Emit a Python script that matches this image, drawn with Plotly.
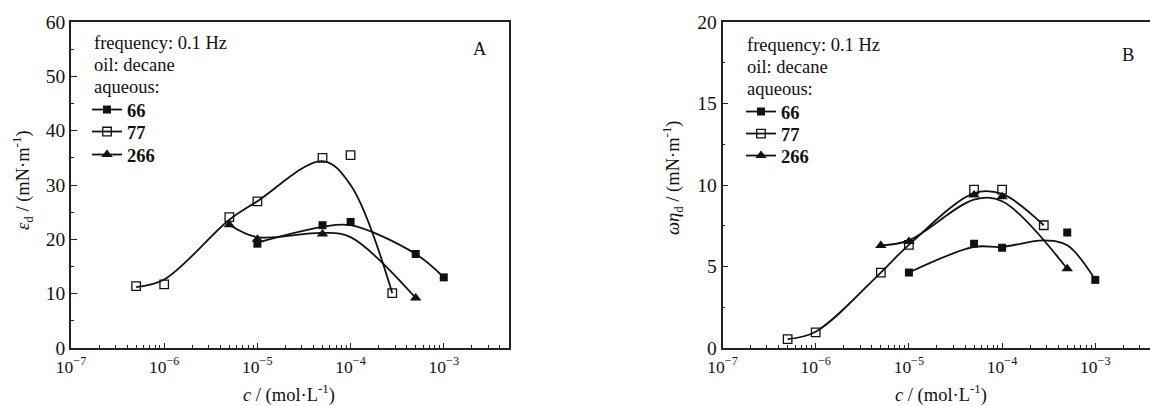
import plotly.graph_objects as go

# ---------------- data ----------------
# Panel A: dilational elasticity eps_d vs concentration
a66_x = [1e-5, 5e-5, 1e-4, 5e-4, 1e-3]
a66_y = [19.2, 22.6, 23.2, 17.3, 13.0]
a66_fit_y = [19.4, 22.3, 22.6, 17.3, 13.0]

a77_x = [5e-7, 1e-6, 5e-6, 1e-5, 5e-5, 1e-4, 2.8e-4]
a77_y = [11.4, 11.7, 24.1, 27.0, 35.0, 35.5, 10.1]
a77_fit_y = [11.2, 12.6, 23.6, 27.0, 34.4, 30.0, 10.1]

a266_x = [5e-6, 1e-5, 5e-5, 5e-4]
a266_y = [22.7, 20.0, 21.0, 9.2]
a266_fit_x = [5e-6, 1e-5, 5e-5, 1e-4, 5e-4]
a266_fit_y = [22.7, 20.4, 21.2, 20.4, 9.2]

# Panel B: dilational viscous component omega*eta_d vs concentration
b66_x = [1e-5, 5e-5, 1e-4, 5e-4, 1e-3]
b66_y = [4.63, 6.40, 6.15, 7.08, 4.18]
b66_fit_x = [1e-5, 5e-5, 1e-4, 2.8e-4, 5e-4, 1e-3]
b66_fit_y = [4.63, 6.2, 6.2, 6.6, 6.3, 4.18]

b77_x = [5e-7, 1e-6, 5e-6, 1e-5, 5e-5, 1e-4, 2.8e-4]
b77_y = [0.55, 0.96, 4.63, 6.33, 9.72, 9.72, 7.53]
b77_fit_y = [0.55, 1.0, 4.63, 6.33, 9.5, 9.45, 7.53]

b266_x = [5e-6, 1e-5, 5e-5, 1e-4, 5e-4]
b266_y = [6.29, 6.53, 9.38, 9.28, 4.86]
b266_fit_y = [6.29, 6.6, 9.1, 9.0, 4.86]

series_names = ["66", "77", "266"]
info_lines = ["frequency: 0.1 Hz", "oil: decane", "aqueous:"]
x_tickvals = [1e-7, 1e-6, 1e-5, 1e-4, 1e-3]
x_ticktext = ["10<sup>−7</sup>", "10<sup>−6</sup>", "10<sup>−5</sup>", "10<sup>−4</sup>", "10<sup>−3</sup>"]

# ---------------- styling ----------------
FONT = "Liberation Serif, Times New Roman, serif"
INK = "#111111"
AX = "#222222"
FS = 18.5

W, H = 1150, 406
ML, MR, MT, MB = 71, 0, 22, 58
PW, PH = W - ML - MR, H - MT - MB


def px_x(p):
    return (p - ML) / PW


def px_y(p):
    return (H - MB - p) / PH


styles = {
    "66": dict(symbol="square", size=8, color=INK, line=dict(width=0)),
    "77": dict(symbol="square-open", size=8.5, color=INK, line=dict(width=1.3)),
    "266": dict(symbol="triangle-up", size=10, color=INK, line=dict(width=0)),
}

fig = go.Figure()


def add_panel(xa, ya, legends, data):
    for name, lg, (mx, my, fx, fy) in zip(series_names, legends, data):
        fig.add_trace(go.Scatter(
            x=fx, y=fy, mode="lines", line=dict(color=INK, width=1.8, shape="spline", smoothing=1.0),
            xaxis=xa, yaxis=ya, showlegend=False, hoverinfo="skip"))
        fig.add_trace(go.Scatter(
            x=mx, y=my, mode="markers", marker=styles[name],
            xaxis=xa, yaxis=ya, showlegend=False, name=name))
        fig.add_trace(go.Scatter(
            x=[None], y=[None], mode="lines+markers", name="<b>%s</b>" % name,
            line=dict(color=INK, width=1.8), marker=styles[name],
            xaxis=xa, yaxis=ya, legend=lg, showlegend=True))


add_panel("x", "y", ["legend", "legend2", "legend3"], [
    (a66_x, a66_y, a66_x, a66_fit_y),
    (a77_x, a77_y, a77_x, a77_fit_y),
    (a266_x, a266_y, a266_fit_x, a266_fit_y),
])
add_panel("x2", "y2", ["legend4", "legend5", "legend6"], [
    (b66_x, b66_y, b66_fit_x, b66_fit_y),
    (b77_x, b77_y, b77_x, b77_fit_y),
    (b266_x, b266_y, b266_x, b266_fit_y),
])

minor_x = [k * 10.0 ** e for e in range(-7, -2) for k in range(2, 10)]

xcommon = dict(
    type="log", tickmode="array", tickvals=x_tickvals, ticktext=x_ticktext,
    showline=True, linecolor=AX, linewidth=1.5, showgrid=False, zeroline=False,
    ticks="inside", ticklen=5, tickwidth=1.2, tickcolor=AX, ticklabelstandoff=2,
    minor=dict(tickmode="array", tickvals=minor_x, ticks="inside", ticklen=3, tickwidth=1,
               tickcolor=AX, showgrid=False),
    tickfont=dict(family=FONT, size=17.5, color=INK),
)
ycommon = dict(
    showline=True, linecolor=AX, linewidth=1.5, showgrid=False, zeroline=False,
    ticks="inside", ticklen=6, tickwidth=1.2, tickcolor=AX,
    tickfont=dict(family=FONT, size=19.5, color=INK),
)


def item_legend(xp, yp):
    return dict(x=px_x(xp), y=px_y(yp), xanchor="left", yanchor="middle", bgcolor="rgba(0,0,0,0)",
                font=dict(family=FONT, size=FS, color=INK), itemwidth=30, tracegroupgap=0)


fig.update_layout(
    width=W, height=H,
    margin=dict(l=ML, r=MR, t=MT, b=MB),
    paper_bgcolor="white", plot_bgcolor="white",
    font=dict(family=FONT, size=FS, color=INK),
    xaxis=dict(domain=[0, px_x(509)], range=[-7, -2.3], mirror=True, anchor="y", **xcommon),
    yaxis=dict(domain=[0, 1], range=[0, 60], dtick=10, mirror=True, anchor="x",
               minor=dict(dtick=5, ticks="inside", ticklen=3, tickwidth=1, tickcolor=AX, showgrid=False),
               **ycommon),
    xaxis2=dict(domain=[px_x(722.5), 1], range=[-7, -7 + (W - 722.5) / 93.2], mirror=True, anchor="y2",
                **xcommon),
    yaxis2=dict(domain=[0, 1], range=[0, 20], dtick=5, mirror=False, anchor="x2",
                minor=dict(dtick=2.5, ticks="inside", ticklen=3, tickwidth=1, tickcolor=AX, showgrid=False),
                **ycommon),
    legend=item_legend(87, 110),
    legend2=item_legend(87, 132),
    legend3=item_legend(87, 155),
    legend4=item_legend(741, 112),
    legend5=item_legend(741, 134),
    legend6=item_legend(741, 156),
    showlegend=True,
)

ann = dict(showarrow=False, xref="paper", yref="paper", font=dict(family=FONT, size=FS, color=INK))
for (lx, ly0) in [(91.5, 43.5), (745, 45)]:
    for i, line in enumerate(info_lines):
        fig.add_annotation(text=line, x=px_x(lx), y=px_y(ly0 + 21.8 * i),
                           xanchor="left", yanchor="middle", **ann)

fig.add_annotation(text="<i>ε</i><sub>d</sub> / (mN·m<sup>-1</sup>)", x=px_x(22), y=px_y(180),
                   textangle=-90, xanchor="center", yanchor="middle", **ann)
fig.add_annotation(text="<i>ωη</i><sub>d</sub> / (mN·m<sup>-1</sup>)", x=px_x(672), y=px_y(178),
                   textangle=-90, xanchor="center", yanchor="middle", **ann)
fig.add_annotation(text="<i>c</i> / (mol·L<sup>-1</sup>)", x=px_x(289), y=px_y(393),
                   xanchor="center", yanchor="middle", **ann)
fig.add_annotation(text="<i>c</i> / (mol·L<sup>-1</sup>)", x=px_x(941), y=px_y(393),
                   xanchor="center", yanchor="middle", **ann)
fig.add_annotation(text="A", x=px_x(480), y=px_y(49), xanchor="center", yanchor="middle", **ann)
fig.add_annotation(text="B", x=px_x(1128), y=px_y(55), xanchor="center", yanchor="middle", **ann)

fig.write_html("out.html")
